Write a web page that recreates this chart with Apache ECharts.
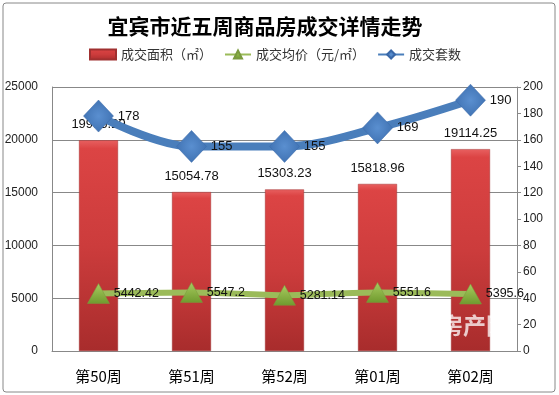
<!DOCTYPE html>
<html><head><meta charset="utf-8">
<script src="https://cdn.jsdelivr.net/npm/echarts@6/dist/echarts.min.js"></script>
<style>html,body{margin:0;padding:0;background:#fff}#c{width:559px;height:395px}</style>
</head><body><div id="c"></div>
<script>
const categories = ['第50周','第51周','第52周','第01周','第02周'];
const area = [19955.29, 15054.78, 15303.23, 15818.96, 19114.25];
const price = [5442.42, 5547.2, 5281.14, 5551.6, 5395.6];
const units = [178, 155, 155, 169, 190];
const leftTicks = [0, 5000, 10000, 15000, 20000, 25000];
const rightTicks = [0, 20, 40, 60, 80, 100, 120, 140, 160, 180, 200];

const chart = echarts.init(document.getElementById('c'));
const font = 'Liberation Sans, Arial, "Noto Sans CJK SC", sans-serif';
const G = echarts.graphic;
chart.setOption({
  animation: false,
  textStyle: {fontFamily: font},
  title: {
    text: '宜宾市近五周商品房成交详情走势',
    left: 260, top: 11, textAlign: 'center',
    textStyle: {fontSize: 21, fontWeight: 'bold', color: '#000', fontFamily: '"Noto Sans CJK SC", sans-serif'}
  },
  legend: {
    top: 43, left: 84,
    itemGap: 12, itemWidth: 26, itemHeight: 10,
    textStyle: {fontSize: 13, color: '#333', fontFamily: '"Noto Sans CJK SC", sans-serif'},
    data: [
      {name: '成交面积（㎡）', icon: 'rect'},
      {name: '成交均价（元/㎡）'},
      {name: '成交套数'}
    ]
  },
  graphic: [
    {type: 'rect', shape: {x: 3, y: 3, width: 552, height: 389, r: 3},
     style: {fill: 'none', stroke: '#888', lineWidth: 1}, z: -1},
    {type: 'text', left: 440, top: 314, z: 100,
     style: {text: '房产网', fill: 'rgba(255,255,255,0.75)', font: 'bold 23px "Noto Sans CJK SC", sans-serif'}}
  ],
  grid: {left: 52, right: 42, top: 87, bottom: 44},
  xAxis: {
    type: 'category', data: categories,
    axisLine: {lineStyle: {color: '#888'}},
    axisTick: {show: false},
    axisLabel: {fontSize: 15, color: '#000', margin: 18, fontFamily: '"Noto Sans CJK SC", sans-serif'}
  },
  yAxis: [
    {type: 'value', min: leftTicks[0], max: leftTicks[leftTicks.length-1], interval: 5000,
     axisLine: {show: true, lineStyle: {color: '#888'}},
     axisTick: {show: false},
     splitLine: {lineStyle: {color: '#888', width: 1}},
     axisLabel: {fontSize: 12, color: '#222', margin: 14, formatter: v => String(v)}},
    {type: 'value', min: rightTicks[0], max: rightTicks[rightTicks.length-1], interval: 20,
     axisLine: {show: true, lineStyle: {color: '#888'}},
     axisTick: {show: true, length: 4, lineStyle: {color: '#888'}},
     splitLine: {show: false},
     axisLabel: {fontSize: 12, color: '#222', margin: 6, formatter: v => String(v)}}
  ],
  series: [
    {
      name: '成交面积（㎡）', type: 'bar', data: area, barWidth: 39, yAxisIndex: 0, z: 1,
      itemStyle: {
        color: new G.LinearGradient(0, 0, 0, 1, [
          {offset: 0, color: '#e86060'},
          {offset: 0.04, color: '#dc4444'},
          {offset: 0.5, color: '#cc3c3c'},
          {offset: 1, color: '#a82c2c'}
        ]),
        borderColor: '#a03030', borderWidth: 0.5
      },
      label: {show: true, position: 'top', distance: 9, fontSize: 13, color: '#111',
        formatter: p => area[p.dataIndex].toString()}
    },
    {
      name: '成交均价（元/㎡）', type: 'line', data: price, yAxisIndex: 0, z: 3,
      smooth: 0.3,
      symbol: 'triangle', symbolSize: [22, 20],
      lineStyle: {color: '#9bbb59', width: 6},
      itemStyle: {color: new G.LinearGradient(0, 0, 0, 1, [
        {offset: 0, color: '#a8cc60'}, {offset: 1, color: '#6f9a2e'}]), borderColor: '#7a9a3e', borderWidth: 0.5},
      label: {show: true, position: 'right', distance: 4, fontSize: 12.5, color: '#111',
        formatter: p => price[p.dataIndex].toString()}
    },
    {
      name: '成交套数', type: 'line', data: units, yAxisIndex: 1, z: 4,
      smooth: 0.35,
      symbol: 'diamond', symbolSize: [30, 32],
      lineStyle: {color: '#4a7ebb', width: 8},
      itemStyle: {color: new G.RadialGradient(0.5, 0.5, 0.6, [
        {offset: 0, color: '#5a8fd0'}, {offset: 1, color: '#3c6eae'}]), borderColor: '#3a68a8', borderWidth: 0.5},
      label: {show: true, position: 'right', distance: 4, fontSize: 13, color: '#111'}
    }
  ]
});
</script></body></html>
